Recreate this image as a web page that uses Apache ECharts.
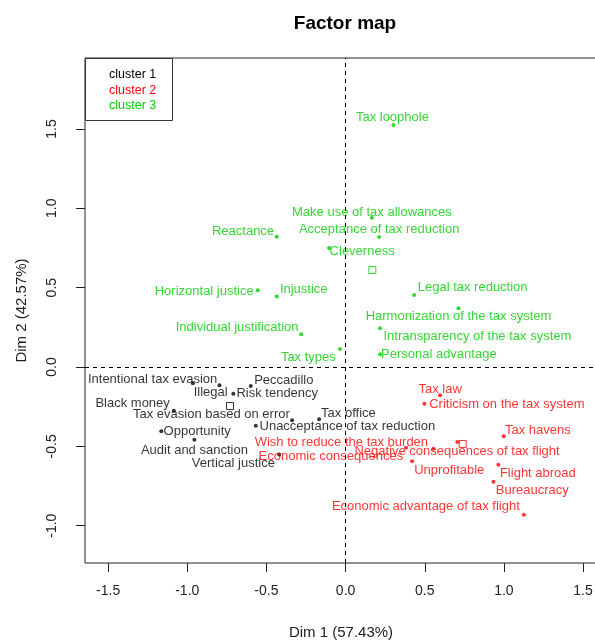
<!DOCTYPE html>
<html>
<head>
<meta charset="utf-8">
<script src="https://cdn.jsdelivr.net/npm/echarts@6/dist/echarts.min.js"></script>
<style>
html,body{margin:0;padding:0;background:#fff;}
#chart{width:595px;height:640px;}
</style>
</head>
<body>
<div id="chart"></div>
<script>
// ---- data ----
const cluster1Names = ['Intentional tax evasion','Illegal','Peccadillo','Risk tendency','Black money','Tax evasion based on error','Tax office','Unacceptance of tax reduction','Opportunity','Audit and sanction','Vertical justice'];
const cluster1X = [-0.965,-0.797,-0.599,-0.709,-1.085,-0.338,-0.167,-0.567,-1.164,-0.955,-0.420];
const cluster1Y = [-0.103,-0.115,-0.120,-0.168,-0.275,-0.336,-0.330,-0.370,-0.405,-0.458,-0.551];

const cluster2Names = ['Tax law','Criticism on the tax system','Tax havens','Wish to reduce the tax burden','Economic consequences','Negative consequences of tax flight','Unprofitable','Flight abroad','Bureaucracy','Economic advantage of tax flight'];
const cluster2X = [0.597,0.498,0.999,0.555,0.382,0.706,0.420,0.965,0.934,1.126];
const cluster2Y = [-0.178,-0.231,-0.437,-0.515,-0.509,-0.473,-0.594,-0.616,-0.723,-0.931];

const cluster3Names = ['Tax loophole','Make use of tax allowances','Acceptance of tax reduction','Reactance','Cleverness','Horizontal justice','Injustice','Individual justification','Tax types','Legal tax reduction','Harmonization of the tax system','Intransparency of the tax system','Personal advantage'];
const cluster3X = [0.302,0.166,0.212,-0.435,-0.104,-0.555,-0.435,-0.281,-0.035,0.433,0.713,0.218,0.218];
const cluster3Y = [1.525,0.941,0.819,0.821,0.750,0.483,0.445,0.206,0.113,0.454,0.370,0.244,0.080];

const centroidNames = ['cluster 1','cluster 2','cluster 3'];
const centroidX = [-0.730,0.740,0.169];
const centroidY = [-0.246,-0.485,0.611];

const xTicks = [-1.5,-1.0,-0.5,0.0,0.5,1.0,1.5];
const yTicks = [-1.0,-0.5,0.0,0.5,1.0,1.5];

// ---- layout (label offsets in px, relative to point) ----
const labelOffset = {
  'Tax loophole':[-1,-7.5],
  'Make use of tax allowances':[0,-5],
  'Acceptance of tax reduction':[0,-7.7],
  'Cleverness':[33,3],
  'Reactance':[-33.7,-5],
  'Horizontal justice':[-53.5,0.7],
  'Injustice':[27,-7.3],
  'Individual justification':[-64,-7],
  'Tax types':[-31.7,8.3],
  'Legal tax reduction':[58.5,-7.3],
  'Harmonization of the tax system':[0,8.4],
  'Intransparency of the tax system':[97.3,8.4],
  'Personal advantage':[58.7,0],
  'Intentional tax evasion':[-40.2,-4],
  'Illegal':[-8.8,6.7],
  'Peccadillo':[33,-6],
  'Risk tendency':[43.9,0],
  'Black money':[-41.2,-7.4],
  'Tax evasion based on error':[-80.7,-6.3],
  'Tax office':[29.3,-6],
  'Unacceptance of tax reduction':[91.5,0.3],
  'Opportunity':[35.9,0.4],
  'Audit and sanction':[0,10.3],
  'Vertical justice':[-45.7,8.8],
  'Tax law':[0,-6.3],
  'Criticism on the tax system':[82.4,0.3],
  'Tax havens':[34.1,-6],
  'Wish to reduce the tax burden':[-92.1,-6.4],
  'Economic consequences':[-75.2,9],
  'Negative consequences of tax flight':[-0.3,9.3],
  'Unprofitable':[37.2,8.7],
  'Flight abroad':[39.5,8.6],
  'Bureaucracy':[38.9,8.3],
  'Economic advantage of tax flight':[-98,-8]
};

const colors = ['#000000','#FF0000','#00CD00'];
const FONT = '"Liberation Sans", Arial, sans-serif';

function pts(names, xs, ys, color) {
  return names.map((n, i) => ({
    name: n,
    value: [xs[i], ys[i]],
    label: {
      show: true,
      formatter: n,
      position: 'inside',
      offset: labelOffset[n] || [0, -8],
      color: color,
      fontSize: 13,
      fontFamily: FONT
    }
  }));
}

const chart = echarts.init(document.getElementById('chart'), null, {renderer: 'canvas'});

const option = {
  animation: false,
  backgroundColor: '#fff',
  title: {
    text: 'Factor map',
    left: 340,
    top: 9,
    textAlign: 'center',
    textStyle: {fontSize: 19, fontWeight: 'bold', color: '#000', fontFamily: FONT}
  },
  grid: {
    left: 85, right: -2, top: 58, bottom: 77,
    outerBoundsMode: 'none',
    containLabel: false,
    show: true, borderColor: '#222', borderWidth: 1, backgroundColor: 'transparent'
  },
  xAxis: {
    type: 'value',
    min: -1.646, max: 1.588,
    name: 'Dim 1 (57.43%)',
    nameLocation: 'middle',
    nameGap: 62,
    nameTextStyle: {fontSize: 15, color: '#222', fontFamily: FONT},
    axisLine: {show: false, onZero: false},
    splitLine: {show: false},
    axisTick: {show: true, inside: false, length: 9, customValues: xTicks, lineStyle: {color: '#222'}},
    axisLabel: {customValues: xTicks, margin: 21, fontSize: 14, color: '#222', fontFamily: FONT,
      formatter: v => v.toFixed(1)}
  },
  yAxis: {
    type: 'value',
    min: -1.235, max: 1.947,
    name: 'Dim 2 (42.57%)',
    nameLocation: 'middle',
    nameGap: 56,
    nameTextStyle: {fontSize: 15, color: '#222', fontFamily: FONT},
    axisLine: {show: false, onZero: false},
    splitLine: {show: false},
    axisTick: {show: true, inside: false, length: 9, customValues: yTicks, lineStyle: {color: '#222'}},
    axisLabel: {customValues: yTicks, margin: 26, rotate: 90, fontSize: 14, color: '#222', fontFamily: FONT,
      formatter: v => v.toFixed(1)}
  },
  series: [
    {
      name: 'cluster 1', type: 'scatter', symbol: 'circle', symbolSize: 4,
      itemStyle: {color: colors[0]},
      data: pts(cluster1Names, cluster1X, cluster1Y, colors[0]),
      markLine: {
        silent: true, symbol: 'none',
        label: {show: false},
        lineStyle: {color: '#000', type: [4, 4], width: 1},
        data: [{xAxis: 0}, {yAxis: 0}]
      },
      z: 3
    },
    {
      name: 'cluster 2', type: 'scatter', symbol: 'circle', symbolSize: 4,
      itemStyle: {color: colors[1]},
      data: pts(cluster2Names, cluster2X, cluster2Y, colors[1]),
      z: 3
    },
    {
      name: 'cluster 3', type: 'scatter', symbol: 'circle', symbolSize: 4,
      itemStyle: {color: colors[2]},
      data: pts(cluster3Names, cluster3X, cluster3Y, colors[2]),
      z: 3
    },
    {
      name: 'centroids', type: 'scatter', symbol: 'rect', symbolSize: 7,
      data: centroidNames.map((n, i) => ({
        name: n, value: [centroidX[i], centroidY[i]],
        itemStyle: {color: 'transparent', borderColor: colors[i], borderWidth: 1}
      })),
      z: 4
    }
  ],
  graphic: [
    {
      type: 'rect', z: 10,
      shape: {x: 85.5, y: 58.5, width: 87, height: 62},
      style: {fill: '#fff', stroke: '#333', lineWidth: 1}
    },
    {type: 'text', z: 11, x: 109, y: 75, style: {text: 'cluster 1', fill: colors[0], font: '12.5px ' + FONT, verticalAlign: 'middle'}},
    {type: 'text', z: 11, x: 109, y: 90.5, style: {text: 'cluster 2', fill: colors[1], font: '12.5px ' + FONT, verticalAlign: 'middle'}},
    {type: 'text', z: 11, x: 109, y: 106, style: {text: 'cluster 3', fill: colors[2], font: '12.5px ' + FONT, verticalAlign: 'middle'}}
  ]
};

chart.setOption(option);
</script>
</body>
</html>
